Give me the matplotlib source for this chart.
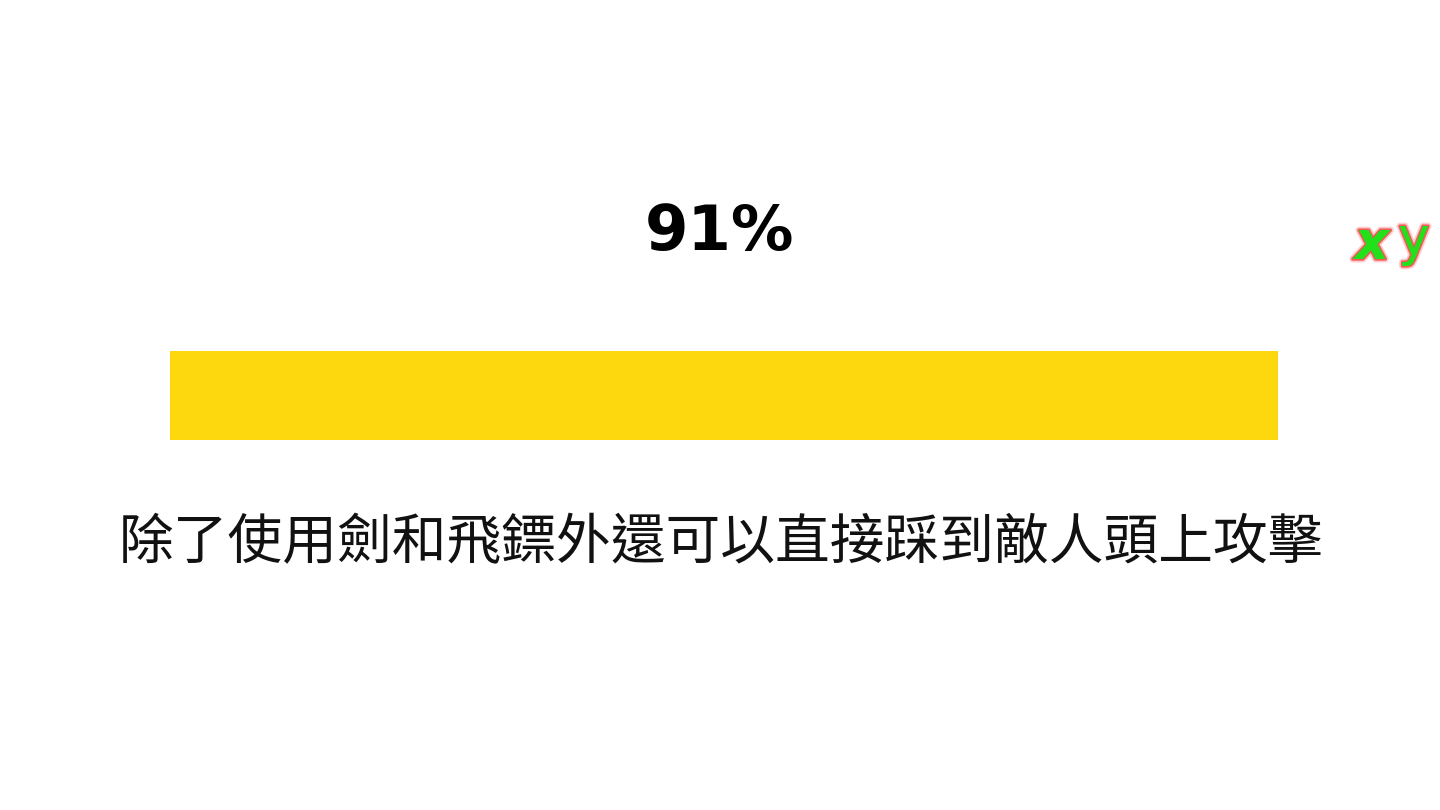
import matplotlib
matplotlib.use("Agg")
import matplotlib.pyplot as plt
import matplotlib.patheffects as pe

# data
progress = 0.91
label_pct = "91%"
caption = "除了使用劍和飛鏢外還可以直接踩到敵人頭上攻擊"
logo_letters = ["x", "y"]

W, H = 1440, 810
fig = plt.figure(figsize=(W / 100, H / 100), dpi=100)
fig.patch.set_facecolor("white")

# progress bar axes: track starts at x=170 px, filled part ends at ~1278 px
left = 170 / W
track_w = (1278 - 170) / progress / W
ax = fig.add_axes([left, 1 - 440 / H, track_w, 89 / H])
ax.barh([0], [progress], height=1.0, left=0, color="#FDD80F", edgecolor="none")
ax.set_xlim(0, 1)
ax.set_ylim(-0.5, 0.5)
ax.axis("off")

fig.text(720 / W, 1 - 233 / H, label_pct, ha="center", va="center",
         fontsize=45, fontweight="bold", family="DejaVu Sans", color="black")

fig.text(721 / W, 1 - 543 / H, caption, ha="center", va="center",
         fontsize=39.4, family=["Noto Sans CJK TC", "DejaVu Sans"], color="#111111")

glow = [pe.withStroke(linewidth=5, foreground="#FF9090", alpha=0.45),
        pe.withStroke(linewidth=2.5, foreground="#F04040", alpha=0.8),
        pe.Normal()]
fig.text(1372 / W, 1 - 244 / H, logo_letters[0], ha="center", va="center",
         fontsize=38, fontweight="bold", style="italic", family="DejaVu Sans",
         color="#22E01A", path_effects=glow)
fig.text(1414 / W, 1 - 240 / H, logo_letters[1], ha="center", va="center",
         fontsize=38, family="DejaVu Sans",
         color="#22E01A", path_effects=glow)

fig.savefig("out.png", dpi=100, facecolor="white")
